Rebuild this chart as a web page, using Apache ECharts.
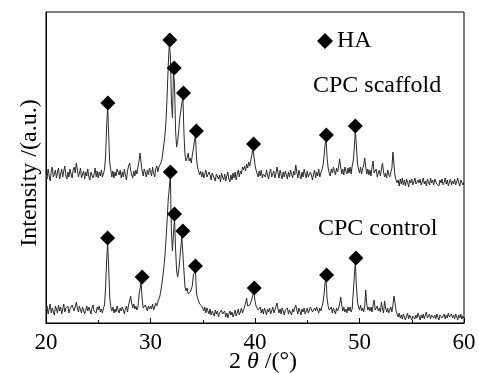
<!DOCTYPE html>
<html>
<head>
<meta charset="utf-8">
<script src="https://cdn.jsdelivr.net/npm/echarts@6/dist/echarts.min.js"></script>
<style>html,body{margin:0;padding:0;background:#fff}#c{width:479px;height:373px}</style>
</head>
<body>
<div id="c"></div>
<script>
// 2θ sampling: 20° to 60°, 0.1° step (401 points)
const thetaStart = 20, thetaStep = 0.1;

const scaffold = [
150,144,154,147,142,152,156,146,149,153,
145,151,155,144,149,154,146,152,157,147,
144,151,146,154,149,145,153,156,150,160,
153,146,150,155,145,149,152,144,151,147,
154,146,143,151,153,145,149,155,146,152,
145,151,147,153,146,149,154,166,196,216,
188,160,153,146,152,145,151,147,154,156,
148,153,145,151,146,154,148,143,152,157,
160,153,148,145,152,147,153,149,156,162,
170,160,152,147,154,150,146,153,148,155,
152,147,156,150,146,154,157,151,156,158,
160,164,172,180,190,205,230,258,279,268,
222,205,251,238,192,176,182,192,205,212,
220,226,190,168,162,165,170,162,165,160,
168,174,182,188,165,156,152,148,152,146,
151,145,149,153,146,144,151,148,143,150,
152,145,142,149,151,144,148,141,150,146,
143,149,142,147,151,144,141,148,143,150,
145,151,143,149,153,146,152,149,156,153,
157,152,159,155,161,157,163,168,175,166,
158,153,151,146,152,147,153,145,149,151,
146,153,148,144,151,154,146,149,152,145,
149,156,150,145,153,148,144,151,146,152,
148,144,151,146,153,149,145,152,148,158,
151,145,153,148,144,151,146,154,149,145,
152,146,144,151,148,143,149,153,145,151,
147,154,146,150,153,157,166,178,184,165,
155,150,147,154,150,156,152,148,155,151,
156,164,156,149,154,148,156,152,149,155,
150,156,149,157,162,175,193,178,160,154,
150,156,149,154,158,165,156,149,154,148,
153,147,156,162,150,148,154,146,150,153,
147,154,160,151,146,150,145,153,149,146,
151,155,171,158,147,143,140,143,137,144,
139,145,138,143,137,144,141,136,143,140,
144,138,141,145,139,137,143,140,144,138,
141,145,139,142,137,144,141,138,145,140,
143,138,144,146,139,141,137,143,140,144,
138,141,145,139,143,137,141,144,138,142,
139,144,138,141,145,140,137,143,141,138,
141
];

const control = [
12,17,9,14,19,10,15,13,8,17,
14,10,18,12,16,9,14,19,11,15,
13,17,10,14,12,18,15,12,16,21,
15,11,17,13,10,16,14,9,13,17,
12,16,13,9,15,18,12,14,10,16,
13,17,11,14,10,15,18,35,62,80,
55,25,16,12,16,10,14,11,17,13,
10,15,12,16,13,9,14,17,11,18,
22,27,20,15,19,14,17,13,16,28,
34,41,24,15,13,18,15,12,17,14,
17,14,19,13,16,20,17,21,23,27,
33,40,48,58,70,86,104,124,135,147,
92,72,90,104,74,52,46,53,63,76,
86,88,52,36,32,35,29,27,31,30,
37,48,50,53,30,25,22,19,21,17,
16,12,16,10,15,12,9,14,8,12,
10,7,13,9,12,6,10,8,13,9,
7,12,6,10,5,9,12,8,11,6,
9,13,7,10,14,8,11,15,10,13,
16,20,25,17,15,18,21,24,28,31,
22,17,19,13,11,16,10,14,9,15,
12,8,14,11,15,9,12,16,10,13,
16,20,14,10,14,9,15,12,8,13,
11,15,9,13,12,8,14,11,15,18,
13,9,15,12,8,14,11,15,9,12,
15,10,13,16,17,11,9,15,12,16,
13,10,15,12,16,20,28,40,44,24,
17,13,11,16,10,15,13,9,15,12,
15,19,26,18,12,16,11,14,10,16,
12,16,11,14,30,46,60,38,22,16,
13,18,12,15,11,17,33,18,13,16,
12,16,11,18,23,13,11,17,12,15,
11,21,14,10,22,15,11,15,10,13,
16,11,18,27,20,12,9,6,10,5,
8,4,9,6,3,7,10,4,8,6,
3,7,9,4,8,5,10,7,3,8,
5,9,4,8,11,5,7,9,4,8,
10,5,8,4,9,7,3,8,10,5,
7,9,4,8,5,10,6,4,9,5,
8,4,9,6,3,8,5,9,4,7,
5
];

// HA reflection markers (2θ, marker height)
const haScaffoldX = [25.92, 31.85, 32.27, 33.16, 34.39, 39.86, 46.83, 49.6];
const haScaffoldY = [220, 283, 255, 230, 192, 179, 188, 197];
const haControlX = [25.9, 29.2, 31.9, 32.3, 33.1, 34.3, 39.93, 46.85, 49.66];
const haControlY = [85, 46, 151, 109, 92, 57, 35, 48, 65];

const xTicks = [20, 30, 40, 50, 60];

function toPairs(arr) {
  return arr.map((v, i) => [+(thetaStart + i * thetaStep).toFixed(2), v]);
}
function zipPairs(xs, ys) { return xs.map((x, i) => [x, ys[i]]); }

const serif = '"Liberation Serif","Times New Roman",serif';
const chart = echarts.init(document.getElementById('c'), null, {renderer: 'canvas'});
chart.setOption({
  animation: false,
  backgroundColor: '#fff',
  grid: {left: 46, right: 15, top: 12, bottom: 50, show: true, borderColor: '#000', borderWidth: 1,
    backgroundColor: 'transparent', containLabel: false, outerBoundsMode: 'none'},
  legend: {
    data: ['HA'], left: 312, top: 24, icon: 'diamond', itemWidth: 16, itemHeight: 16, padding: 5,
    itemStyle: {color: '#000', opacity: 1},
    textStyle: {fontFamily: serif, fontSize: 24, color: '#000', padding: [0, 0, 0, -1]}
  },
  xAxis: {
    type: 'value', min: xTicks[0], max: xTicks[xTicks.length - 1], interval: 10,
    axisLine: {lineStyle: {color: '#000', width: 1}},
    axisTick: {inside: true, length: 5, lineStyle: {color: '#000'}},
    minorTick: {show: true, splitNumber: 2, length: 3, lineStyle: {color: '#000'}},
    splitLine: {show: false},
    axisLabel: {fontFamily: serif, fontSize: 23, color: '#000', margin: 8}
  },
  yAxis: {
    type: 'value', min: 0, max: 311,
    axisLine: {show: true, lineStyle: {color: '#000'}},
    axisTick: {show: false}, axisLabel: {show: false}, splitLine: {show: false}
  },
  series: [
    {type: 'line', name: 'CPC scaffold', data: toPairs(scaffold), showSymbol: false, symbol: 'none',
      lineStyle: {color: '#2a2a2a', width: 1}, z: 2},
    {type: 'line', name: 'CPC control', data: toPairs(control), showSymbol: false, symbol: 'none',
      lineStyle: {color: '#2a2a2a', width: 1}, z: 2},
    {type: 'scatter', name: 'HA', symbol: 'diamond', symbolSize: 15,
      itemStyle: {color: '#000', opacity: 1}, z: 5,
      data: zipPairs(haScaffoldX, haScaffoldY).concat(zipPairs(haControlX, haControlY))}
  ],
  graphic: [
    {type: 'text', left: 313, top: 74, style: {text: 'CPC scaffold', font: '24px ' + serif, fill: '#000'}},
    {type: 'text', left: 318, top: 217, style: {text: 'CPC control', font: '24px ' + serif, fill: '#000'}},
    {type: 'text', x: 30, y: 173, rotation: Math.PI / 2,
      style: {text: 'Intensity /(a.u.)', font: '24px ' + serif, fill: '#000', align: 'center', verticalAlign: 'middle'}},
    {type: 'text', x: 263, y: 362,
      style: {text: '2 {i|θ} /(°)', font: '24px ' + serif, fill: '#000', align: 'center', verticalAlign: 'middle',
        rich: {i: {fontFamily: serif, fontSize: 24, fontStyle: 'italic', fill: '#000'}}}}
  ]
});
</script>
</body>
</html>
